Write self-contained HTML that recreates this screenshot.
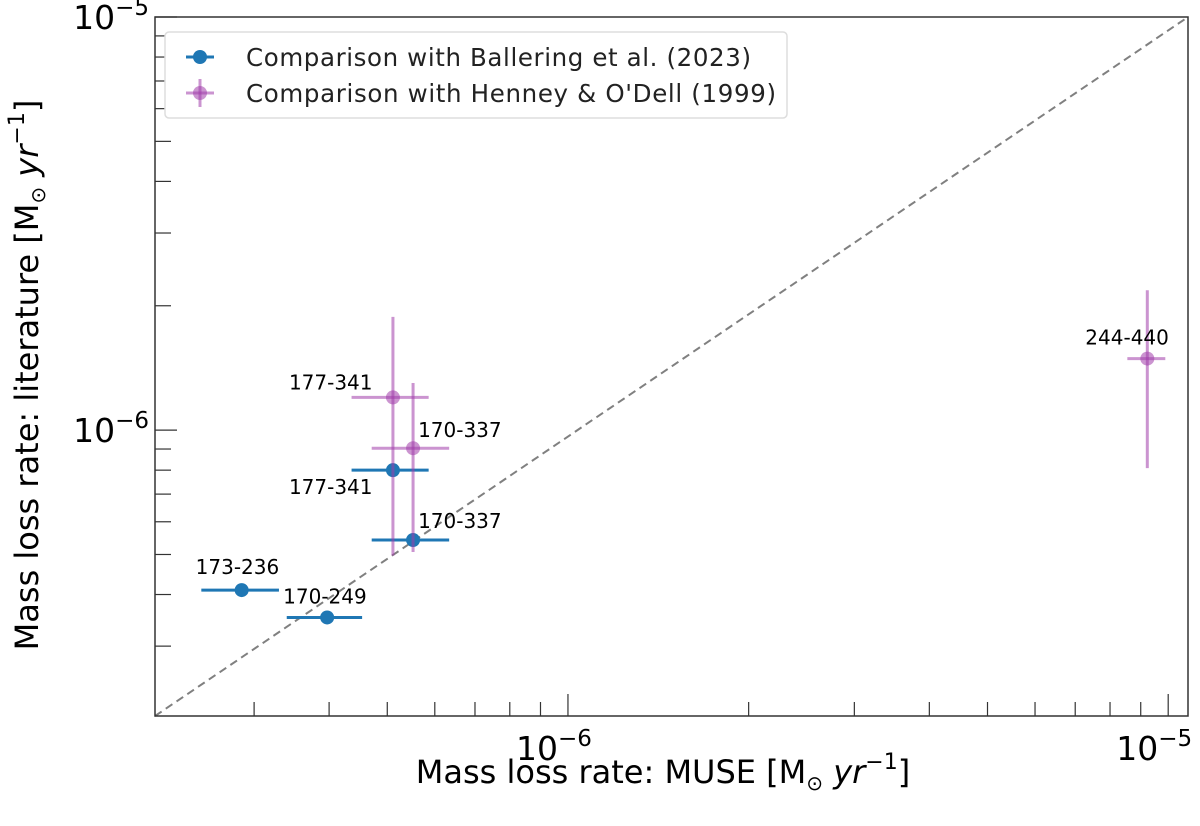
<!DOCTYPE html>
<html><head><meta charset="utf-8"><style>
body{margin:0;background:#fff;}
svg text{font-family:"DejaVu Sans","Liberation Sans",sans-serif;}
</style></head><body>
<svg id="chart" width="1200" height="821" xmlns="http://www.w3.org/2000/svg"></svg>
<script>
const labels = ["173-236","170-249","177-341","170-337"];
const blueX = [2.86e-7,3.97e-7,5.11e-7,5.52e-7];
const blueY = [4.1e-7,3.52e-7,8.0e-7,5.42e-7];
const blueXlo = [2.45e-7,3.40e-7,4.36e-7,4.71e-7];
const blueXhi = [3.30e-7,4.54e-7,5.86e-7,6.34e-7];
const purpleLabels = ["177-341","170-337","244-440"];
const purpleX = [5.11e-7,5.52e-7,9.23e-6];
const purpleY = [1.2e-6,9.04e-7,1.49e-6];
const purpleXlo = [4.36e-7,4.71e-7,8.55e-6];
const purpleXhi = [5.86e-7,6.34e-7,9.89e-6];
const purpleYlo = [4.97e-7,5.07e-7,8.09e-7];
const purpleYhi = [1.88e-6,1.3e-6,2.18e-6];
const xTickLabels = ["−6","−5"];
const NS="http://www.w3.org/2000/svg";
const svg=document.getElementById('chart');
const L=155,R=1188,T=17,B=716;
const xMinL=-6.688,xMaxL=-4.967,yMinL=-6.692,yMaxL=-5;
function sx(v){return L+(Math.log10(v)-xMinL)/(xMaxL-xMinL)*(R-L);}
function sy(v){return B-(Math.log10(v)-yMinL)/(yMaxL-yMinL)*(B-T);}
function mk(tag,attrs,parent){const e=document.createElementNS(NS,tag);for(const k in attrs)e.setAttribute(k,attrs[k]);(parent||svg).appendChild(e);return e;}
const diag=mk('line',{x1:L,y1:B,x2:R,y2:T,stroke:'#808080','stroke-width':2,'stroke-dasharray':'8,5'});


for(let d=-7;d<=-5;d++){for(let m=1;m<10;m++){const v=m*Math.pow(10,d);const x=sx(v);if(x<L-0.5||x>R+0.5)continue;const len=m==1?22:14;
const t=mk('line',{x1:x,y1:B,x2:x,y2:B-len,stroke:'#333','stroke-width':1.2});

}}
for(let d=-7;d<=-5;d++){for(let m=1;m<10;m++){const v=m*Math.pow(10,d);const y=sy(v);if(y<T-0.5||y>B+0.5)continue;const len=m==1?22:16;
const t=mk('line',{x1:L,y1:y,x2:L+len,y2:y,stroke:'#333','stroke-width':1.2});

}}
[-6,-5].forEach((d,i)=>{const x=sx(Math.pow(10,d));
const t=mk('text',{x:x-14,y:B+44,'font-size':33,'text-anchor':'middle'});t.innerHTML='10<tspan dy="-14" font-size="23">'+xTickLabels[i]+'</tspan>';


const yy=sy(Math.pow(10,d));
const u=mk('text',{x:L-6,y:yy+12,'font-size':33,'text-anchor':'end'});u.innerHTML='10<tspan dy="-14" font-size="23">'+xTickLabels[i]+'</tspan>';

});
const fr=mk('rect',{x:L,y:T,width:R-L,height:B-T,fill:'none',stroke:'#333','stroke-width':1.5});


const blue='#1f77b4',purple='rgba(160,60,170,0.55)';
for(let i=0;i<blueX.length;i++){const y=sy(blueY[i]);
const e=mk('line',{x1:sx(blueXlo[i]),y1:y,x2:sx(blueXhi[i]),y2:y,stroke:blue,'stroke-width':3});


const c=mk('circle',{cx:sx(blueX[i]),cy:y,r:7,fill:blue});

}
for(let i=0;i<purpleX.length;i++){const x=sx(purpleX[i]),y=sy(purpleY[i]);
const e=mk('line',{x1:sx(purpleXlo[i]),y1:y,x2:sx(purpleXhi[i]),y2:y,stroke:purple,'stroke-width':3});


const f=mk('line',{x1:x,y1:sy(purpleYlo[i]),x2:x,y2:sy(purpleYhi[i]),stroke:purple,'stroke-width':3});


const c=mk('circle',{cx:x,cy:y,r:7,fill:purple});

}
const bOff=[[-46,-16],[-44,-14],[-104,24],[5,-12]];
for(let i=0;i<labels.length;i++){const t=mk('text',{x:sx(blueX[i])+bOff[i][0],y:sy(blueY[i])+bOff[i][1],'font-size':20});t.textContent=labels[i];

}
const pOff=[[-104,-8],[5,-11],[-62,-14]];
for(let i=0;i<purpleLabels.length;i++){const t=mk('text',{x:sx(purpleX[i])+pOff[i][0],y:sy(purpleY[i])+pOff[i][1],'font-size':20});t.textContent=purpleLabels[i];

}
const xt=mk('text',{x:663,y:783,'font-size':32,'text-anchor':'middle'});xt.innerHTML='Mass loss rate: MUSE [M<tspan font-size="20" dy="7">⊙</tspan><tspan dy="-7" font-style="italic"> yr</tspan><tspan dy="-14" font-size="22">−1</tspan><tspan dy="14">]</tspan>';


const yt=mk('text',{x:0,y:0,'font-size':32,'text-anchor':'middle',transform:'translate(38,375) rotate(-90)'});yt.innerHTML='Mass loss rate: literature [M<tspan font-size="20" dy="7">⊙</tspan><tspan dy="-7" font-style="italic"> yr</tspan><tspan dy="-14" font-size="22">−1</tspan><tspan dy="14">]</tspan>';


const lg=mk('g',{});


mk('rect',{x:165,y:32,width:622,height:86,rx:4,fill:'#fff',stroke:'#ddd','stroke-width':1.5},lg);
const e1=mk('g',{},lg);


mk('line',{x1:186,y1:57,x2:214,y2:57,stroke:blue,'stroke-width':3},e1);
mk('circle',{cx:200,cy:57,r:7,fill:blue},e1);
const t1=mk('text',{x:246,y:66,'font-size':24.5,fill:'#222',textLength:505},e1);t1.textContent='Comparison with Ballering et al. (2023)';
const e2=mk('g',{},lg);


mk('line',{x1:186,y1:93,x2:214,y2:93,stroke:purple,'stroke-width':3},e2);
mk('line',{x1:200,y1:79,x2:200,y2:107,stroke:purple,'stroke-width':3},e2);
mk('circle',{cx:200,cy:93,r:7,fill:purple},e2);
const t2=mk('text',{x:246,y:102,'font-size':24.5,fill:'#222',textLength:530},e2);t2.textContent="Comparison with Henney & O'Dell (1999)";
</script>
</body></html>
